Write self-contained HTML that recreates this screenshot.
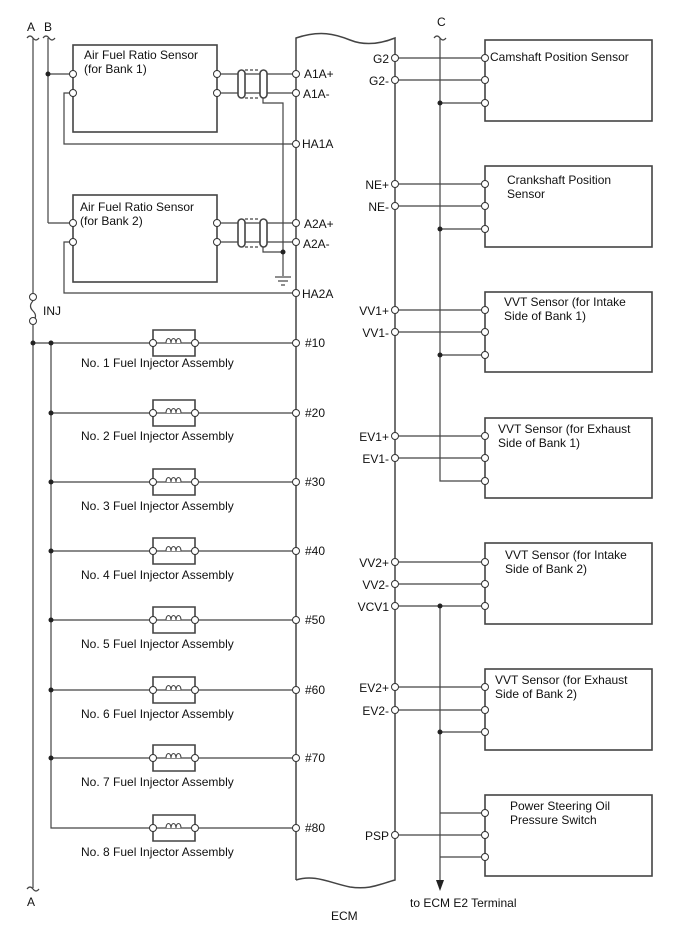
<!DOCTYPE html>
<html><head><meta charset="utf-8"><style>
html,body{margin:0;padding:0;background:#fff;}
svg{display:block;}
text{font-family:"Liberation Sans",sans-serif;font-size:12px;fill:#111;}
</style></head><body>
<svg width="688" height="949" viewBox="0 0 688 949" xmlns="http://www.w3.org/2000/svg">
<g fill="none" stroke="#444" stroke-width="1.2">
<!-- A and B lines -->
<path d="M27,38 q3,-4 6,0 q3,4 6,0"/>
<path d="M43,38 q3,-4 6,0 q3,4 6,0"/>
<line x1="33" y1="38" x2="33" y2="293"/>
<path d="M33,301 q-5,5 0,10 q5,5 0,10"/>
<line x1="33" y1="325" x2="33" y2="888"/>
<path d="M27,889 q3,-4 6,0 q3,4 6,0"/>
<line x1="48" y1="38" x2="48" y2="223"/>
<line x1="48" y1="74" x2="70" y2="74"/>
<line x1="48" y1="223" x2="70" y2="223"/>
<!-- AF sensor boxes -->
<rect x="73" y="45" width="144" height="87" stroke-width="1.6"/>
<rect x="73" y="195" width="144" height="87" stroke-width="1.6"/>
<path d="M70,93 H64 V144 H293"/>
<path d="M70,242 H64 V293 H293"/>
<line x1="221" y1="74" x2="293" y2="74"/>
<line x1="221" y1="93" x2="293" y2="93"/>
<line x1="221" y1="223" x2="293" y2="223"/>
<line x1="221" y1="242" x2="293" y2="242"/>
<!-- shields -->
<rect x="238" y="70" width="7" height="28" rx="3.5" fill="#fff" stroke-width="1.6"/>
<rect x="260" y="70" width="7" height="28" rx="3.5" fill="#fff" stroke-width="1.6"/>
<line x1="245" y1="70" x2="260" y2="70" stroke-dasharray="3,2"/>
<line x1="245" y1="98" x2="260" y2="98" stroke-dasharray="3,2"/>
<rect x="238" y="219" width="7" height="28" rx="3.5" fill="#fff" stroke-width="1.6"/>
<rect x="260" y="219" width="7" height="28" rx="3.5" fill="#fff" stroke-width="1.6"/>
<line x1="245" y1="219" x2="260" y2="219" stroke-dasharray="3,2"/>
<line x1="245" y1="247" x2="260" y2="247" stroke-dasharray="3,2"/>
<path d="M263,98 V103 H283 V276"/>
<path d="M263,247 V252 H283"/>
<line x1="275" y1="277" x2="291" y2="277"/>
<line x1="278" y1="281" x2="288" y2="281"/>
<line x1="281" y1="285" x2="285" y2="285"/>
<!-- ECM -->
<path d="M296,880 V38 C320,30 335,34 350,40 C365,46 380,44 395,38 V880 C380,884 370,890 350,887 C330,883 315,874 296,880" stroke-width="1.5"/>
<!-- injectors -->
<line x1="33" y1="343" x2="150" y2="343"/>
<path d="M51,343 V828 H150"/>
<line x1="51" y1="413" x2="150" y2="413"/>
<line x1="51" y1="482" x2="150" y2="482"/>
<line x1="51" y1="551" x2="150" y2="551"/>
<line x1="51" y1="620" x2="150" y2="620"/>
<line x1="51" y1="690" x2="150" y2="690"/>
<line x1="51" y1="758" x2="150" y2="758"/>
</g>
<!-- injector units -->
<defs>
<g id="inj">
<path d="M153,-3 V-13 H195 V13 H153 V3" fill="none" stroke="#444" stroke-width="1.6"/>
<line x1="156" y1="0" x2="192" y2="0" stroke="#444" stroke-width="1.2"/>
<path d="M166,0 c0,-6 5,-6 5,0 c0,-6 5,-6 5,0 c0,-6 5,-6 5,0" fill="#fff" stroke="#444" stroke-width="1.1"/>
<circle cx="153" cy="0" r="3.5" fill="#fff" stroke="#333"/>
<circle cx="195" cy="0" r="3.5" fill="#fff" stroke="#333"/>
<line x1="198" y1="0" x2="293" y2="0" stroke="#444" stroke-width="1.2"/>
<circle cx="296" cy="0" r="3.5" fill="#fff" stroke="#333"/>
</g>
</defs>
<use href="#inj" y="343"/><use href="#inj" y="413"/><use href="#inj" y="482"/><use href="#inj" y="551"/>
<use href="#inj" y="620"/><use href="#inj" y="690"/><use href="#inj" y="758"/><use href="#inj" y="828"/>
<!-- right side wiring -->
<g fill="none" stroke="#444" stroke-width="1.2">
<path d="M434,38 q3,-4 6,0 q3,4 6,0"/>
<path d="M440,38 V481 H482"/>
<path d="M440,606 V886"/>
<path d="M440,813 H482"/>
<path d="M440,857 H482"/>
<line x1="440" y1="103" x2="482" y2="103"/>
<line x1="440" y1="229" x2="482" y2="229"/>
<line x1="440" y1="355" x2="482" y2="355"/>
<line x1="440" y1="732" x2="482" y2="732"/>
<g>
<line x1="398" y1="58" x2="482" y2="58"/><line x1="398" y1="80" x2="482" y2="80"/>
<line x1="398" y1="184" x2="482" y2="184"/><line x1="398" y1="206" x2="482" y2="206"/>
<line x1="398" y1="310" x2="482" y2="310"/><line x1="398" y1="332" x2="482" y2="332"/>
<line x1="398" y1="436" x2="482" y2="436"/><line x1="398" y1="458" x2="482" y2="458"/>
<line x1="398" y1="562" x2="482" y2="562"/><line x1="398" y1="584" x2="482" y2="584"/><line x1="398" y1="606" x2="482" y2="606"/>
<line x1="398" y1="687" x2="482" y2="687"/><line x1="398" y1="710" x2="482" y2="710"/>
<line x1="398" y1="835" x2="482" y2="835"/>
</g>
<g stroke-width="1.6">
<rect x="485" y="40" width="167" height="81"/>
<rect x="485" y="166" width="167" height="81"/>
<rect x="485" y="292" width="167" height="80"/>
<rect x="485" y="418" width="167" height="80"/>
<rect x="485" y="543" width="167" height="81"/>
<rect x="485" y="669" width="167" height="81"/>
<rect x="485" y="795" width="167" height="81"/>
</g>
</g>
<polygon points="436,880 444,880 440,891" fill="#222"/>
<!-- dots -->
<g fill="#222">
<circle cx="48" cy="74" r="2.5"/><circle cx="283" cy="252" r="2.5"/>
<circle cx="33" cy="343" r="2.5"/><circle cx="51" cy="343" r="2.5"/>
<circle cx="51" cy="413" r="2.5"/><circle cx="51" cy="482" r="2.5"/><circle cx="51" cy="551" r="2.5"/>
<circle cx="51" cy="620" r="2.5"/><circle cx="51" cy="690" r="2.5"/><circle cx="51" cy="758" r="2.5"/>
<circle cx="440" cy="103" r="2.5"/><circle cx="440" cy="229" r="2.5"/><circle cx="440" cy="355" r="2.5"/>
<circle cx="440" cy="606" r="2.5"/><circle cx="440" cy="732" r="2.5"/>
</g>
<!-- pins -->
<g fill="#fff" stroke="#333" stroke-width="1">
<circle cx="33" cy="297" r="3.5"/><circle cx="33" cy="321" r="3.5"/>
<circle cx="73" cy="74" r="3.5"/><circle cx="73" cy="93" r="3.5"/><circle cx="217" cy="74" r="3.5"/><circle cx="217" cy="93" r="3.5"/>
<circle cx="73" cy="223" r="3.5"/><circle cx="73" cy="242" r="3.5"/><circle cx="217" cy="223" r="3.5"/><circle cx="217" cy="242" r="3.5"/>
<circle cx="296" cy="74" r="3.5"/><circle cx="296" cy="93" r="3.5"/><circle cx="296" cy="144" r="3.5"/>
<circle cx="296" cy="223" r="3.5"/><circle cx="296" cy="242" r="3.5"/><circle cx="296" cy="293" r="3.5"/>
<circle cx="395" cy="58" r="3.5"/><circle cx="395" cy="80" r="3.5"/>
<circle cx="395" cy="184" r="3.5"/><circle cx="395" cy="206" r="3.5"/>
<circle cx="395" cy="310" r="3.5"/><circle cx="395" cy="332" r="3.5"/>
<circle cx="395" cy="436" r="3.5"/><circle cx="395" cy="458" r="3.5"/>
<circle cx="395" cy="562" r="3.5"/><circle cx="395" cy="584" r="3.5"/><circle cx="395" cy="606" r="3.5"/>
<circle cx="395" cy="687" r="3.5"/><circle cx="395" cy="710" r="3.5"/>
<circle cx="395" cy="835" r="3.5"/>
<circle cx="485" cy="58" r="3.5"/><circle cx="485" cy="80" r="3.5"/><circle cx="485" cy="103" r="3.5"/>
<circle cx="485" cy="184" r="3.5"/><circle cx="485" cy="206" r="3.5"/><circle cx="485" cy="229" r="3.5"/>
<circle cx="485" cy="310" r="3.5"/><circle cx="485" cy="332" r="3.5"/><circle cx="485" cy="355" r="3.5"/>
<circle cx="485" cy="436" r="3.5"/><circle cx="485" cy="458" r="3.5"/><circle cx="485" cy="481" r="3.5"/>
<circle cx="485" cy="562" r="3.5"/><circle cx="485" cy="584" r="3.5"/><circle cx="485" cy="606" r="3.5"/>
<circle cx="485" cy="687" r="3.5"/><circle cx="485" cy="710" r="3.5"/><circle cx="485" cy="732" r="3.5"/>
<circle cx="485" cy="813" r="3.5"/><circle cx="485" cy="835" r="3.5"/><circle cx="485" cy="857" r="3.5"/>
</g>
<!-- text -->
<text x="27" y="31">A</text><text x="44" y="31">B</text><text x="437" y="26">C</text>
<text x="27" y="906">A</text>
<text x="43" y="315">INJ</text>
<text x="84" y="59">Air Fuel Ratio Sensor</text><text x="84" y="73">(for Bank 1)</text>
<text x="80" y="211">Air Fuel Ratio Sensor</text><text x="80" y="225">(for Bank 2)</text>
<g>
<text x="304" y="78">A1A+</text><text x="303" y="98">A1A-</text><text x="302" y="148">HA1A</text>
<text x="304" y="228">A2A+</text><text x="303" y="248">A2A-</text><text x="302" y="298">HA2A</text>
<text x="305" y="347">#10</text><text x="305" y="417">#20</text><text x="305" y="486">#30</text><text x="305" y="555">#40</text>
<text x="305" y="624">#50</text><text x="305" y="694">#60</text><text x="305" y="762">#70</text><text x="305" y="832">#80</text>
</g>
<g font-size="12">
<text x="81" y="367">No. 1 Fuel Injector Assembly</text>
<text x="81" y="440">No. 2 Fuel Injector Assembly</text>
<text x="81" y="510">No. 3 Fuel Injector Assembly</text>
<text x="81" y="579">No. 4 Fuel Injector Assembly</text>
<text x="81" y="648">No. 5 Fuel Injector Assembly</text>
<text x="81" y="718">No. 6 Fuel Injector Assembly</text>
<text x="81" y="786">No. 7 Fuel Injector Assembly</text>
<text x="81" y="856">No. 8 Fuel Injector Assembly</text>
</g>
<g text-anchor="end">
<text x="389" y="63">G2</text><text x="389" y="85">G2-</text>
<text x="389" y="189">NE+</text><text x="389" y="211">NE-</text>
<text x="389" y="315">VV1+</text><text x="389" y="337">VV1-</text>
<text x="389" y="441">EV1+</text><text x="389" y="463">EV1-</text>
<text x="389" y="567">VV2+</text><text x="389" y="589">VV2-</text><text x="389" y="611">VCV1</text>
<text x="389" y="692">EV2+</text><text x="389" y="715">EV2-</text>
<text x="389" y="840">PSP</text>
</g>
<text x="490" y="61">Camshaft Position Sensor</text>
<text x="507" y="184">Crankshaft Position</text><text x="507" y="198">Sensor</text>
<text x="504" y="306">VVT Sensor (for Intake</text><text x="504" y="320">Side of Bank 1)</text>
<text x="498" y="433">VVT Sensor (for Exhaust</text><text x="498" y="447">Side of Bank 1)</text>
<text x="505" y="559">VVT Sensor (for Intake</text><text x="505" y="573">Side of Bank 2)</text>
<text x="495" y="684">VVT Sensor (for Exhaust</text><text x="495" y="698">Side of Bank 2)</text>
<text x="510" y="810">Power Steering Oil</text><text x="510" y="824">Pressure Switch</text>
<text x="410" y="907">to ECM E2 Terminal</text>
<text x="331" y="920">ECM</text>
</svg>
</body></html>
